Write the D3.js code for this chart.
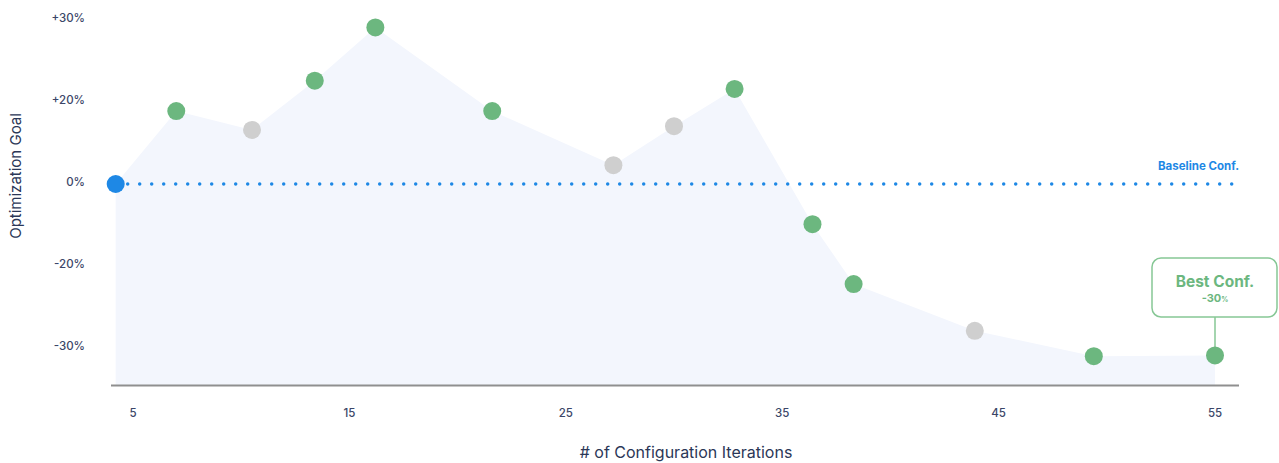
<!DOCTYPE html>
<html>
<head>
<meta charset="utf-8">
<script src="https://cdn.jsdelivr.net/npm/d3@7"></script>
<style>
  body { margin: 0; background: #fff; }
  text { font-family: Inter, "Noto Sans", sans-serif; }
</style>
</head>
<body>
<script>
// iterations (x) and optimization goal in % (y)
var iterations = [4.2, 7, 10.5, 13.4, 16.2, 21.6, 27.2, 30, 32.8, 36.4, 38.3, 43.9, 49.4, 55];
var goals = [0, 17.8, 13.2, 22.6, 29.1, 17.8, 4.6, 14.1, 21.6, -9.8, -22.2, -27.9, -31, -30.9];
var kinds = ['base', 'good', 'bad', 'good', 'good', 'good', 'bad', 'bad', 'good', 'good', 'good', 'bad', 'good', 'good'];
var xTicks = [5, 15, 25, 35, 45, 55];
var yTicks = [30, 20, 0, -20, -30];
var yTickLabels = ['+30%', '+20%', '0%', '-20%', '-30%'];

var w = 1279, h = 463;
var colors = {base: '#1e88e5', good: '#6cb77f', bad: '#cfcfcf'};

var svg = d3.select('body').append('svg')
  .attr('width', w)
  .attr('height', h);

var x = d3.scaleLinear()
  .domain([5, 55])
  .range([133, 1215]);

// ticks are evenly spaced but not evenly valued, so piecewise scale
var y = d3.scaleLinear()
  .domain([-34.5, -30, -20, 0, 20, 30])
  .range([385, 348, 266, 184, 102, 20]);

var pts = iterations.map(function(d, i){
  return {x: d, y: goals[i], kind: kinds[i]};
});

// light area under the points
var area = d3.area()
  .x(function(d){ return x(d.x); })
  .y0(y(-34.5))
  .y1(function(d){ return y(d.y); });

svg.append('path')
  .datum(pts)
  .attr('d', area)
  .attr('fill', '#f3f6fd');

// baseline
svg.append('line')
  .attr('x1', x(iterations[0]) + 12)
  .attr('x2', 1232)
  .attr('y1', y(0))
  .attr('y2', y(0))
  .attr('stroke', colors.base)
  .attr('stroke-width', 3.5)
  .attr('stroke-linecap', 'round')
  .attr('stroke-dasharray', '0,12');

svg.append('text')
  .attr('x', 1239)
  .attr('y', y(0) - 14)
  .attr('text-anchor', 'end')
  .attr('font-size', 11.5)
  .attr('font-weight', 700)
  .attr('fill', colors.base)
  .text('Baseline Conf.');

// x axis line
svg.append('line')
  .attr('x1', 111)
  .attr('x2', 1239)
  .attr('y1', 385.5)
  .attr('y2', 385.5)
  .attr('stroke', '#8f8f8f')
  .attr('stroke-width', 2);

svg.selectAll('.x-tick')
  .data(xTicks)
  .enter()
  .append('text')
  .classed('x-tick', true)
  .attr('x', function(d){ return x(d); })
  .attr('y', 417)
  .attr('text-anchor', 'middle')
  .attr('font-size', 11.5)
  .attr('font-weight', 500)
  .attr('fill', '#3b4668')
  .text(function(d){ return d; });

svg.selectAll('.y-tick')
  .data(yTicks)
  .enter()
  .append('text')
  .classed('y-tick', true)
  .attr('x', 85)
  .attr('y', function(d){ return y(d) + 2; })
  .attr('text-anchor', 'end')
  .attr('font-size', 11.5)
  .attr('font-weight', 500)
  .attr('fill', '#3b4668')
  .text(function(d, i){ return yTickLabels[i]; });

svg.append('text')
  .attr('transform', 'translate(21,176) rotate(-90)')
  .attr('text-anchor', 'middle')
  .attr('font-size', 15)
  .attr('fill', '#2b3757')
  .text('Optimization Goal');

svg.append('text')
  .attr('x', 686)
  .attr('y', 458)
  .attr('text-anchor', 'middle')
  .attr('font-size', 16)
  .attr('fill', '#2b3757')
  .text('# of Configuration Iterations');

// best conf callout
var best = pts[pts.length - 1];
var bx = x(best.x);
svg.append('line')
  .attr('x1', bx)
  .attr('x2', bx)
  .attr('y1', 317)
  .attr('y2', y(best.y))
  .attr('stroke', '#86c795')
  .attr('stroke-width', 1.5);

svg.append('rect')
  .attr('x', 1152)
  .attr('y', 258)
  .attr('width', 125)
  .attr('height', 59)
  .attr('rx', 9)
  .attr('fill', '#fff')
  .attr('stroke', '#86c795')
  .attr('stroke-width', 1.5);

svg.append('text')
  .attr('x', bx)
  .attr('y', 287)
  .attr('text-anchor', 'middle')
  .attr('font-size', 15.5)
  .attr('font-weight', 700)
  .attr('fill', '#6cb77f')
  .text('Best Conf.');

var pct = svg.append('text')
  .attr('x', bx)
  .attr('y', 302)
  .attr('text-anchor', 'middle')
  .attr('font-size', 11)
  .attr('font-weight', 700)
  .attr('fill', '#6cb77f');
pct.append('tspan').text('-30');
pct.append('tspan').attr('font-size', 7).text('%');

// points
svg.selectAll('.dot')
  .data(pts)
  .enter()
  .append('circle')
  .classed('dot', true)
  .attr('cx', function(d){ return x(d.x); })
  .attr('cy', function(d){ return y(d.y); })
  .attr('r', 9)
  .attr('fill', function(d){ return colors[d.kind]; });
</script>
</body>
</html>
